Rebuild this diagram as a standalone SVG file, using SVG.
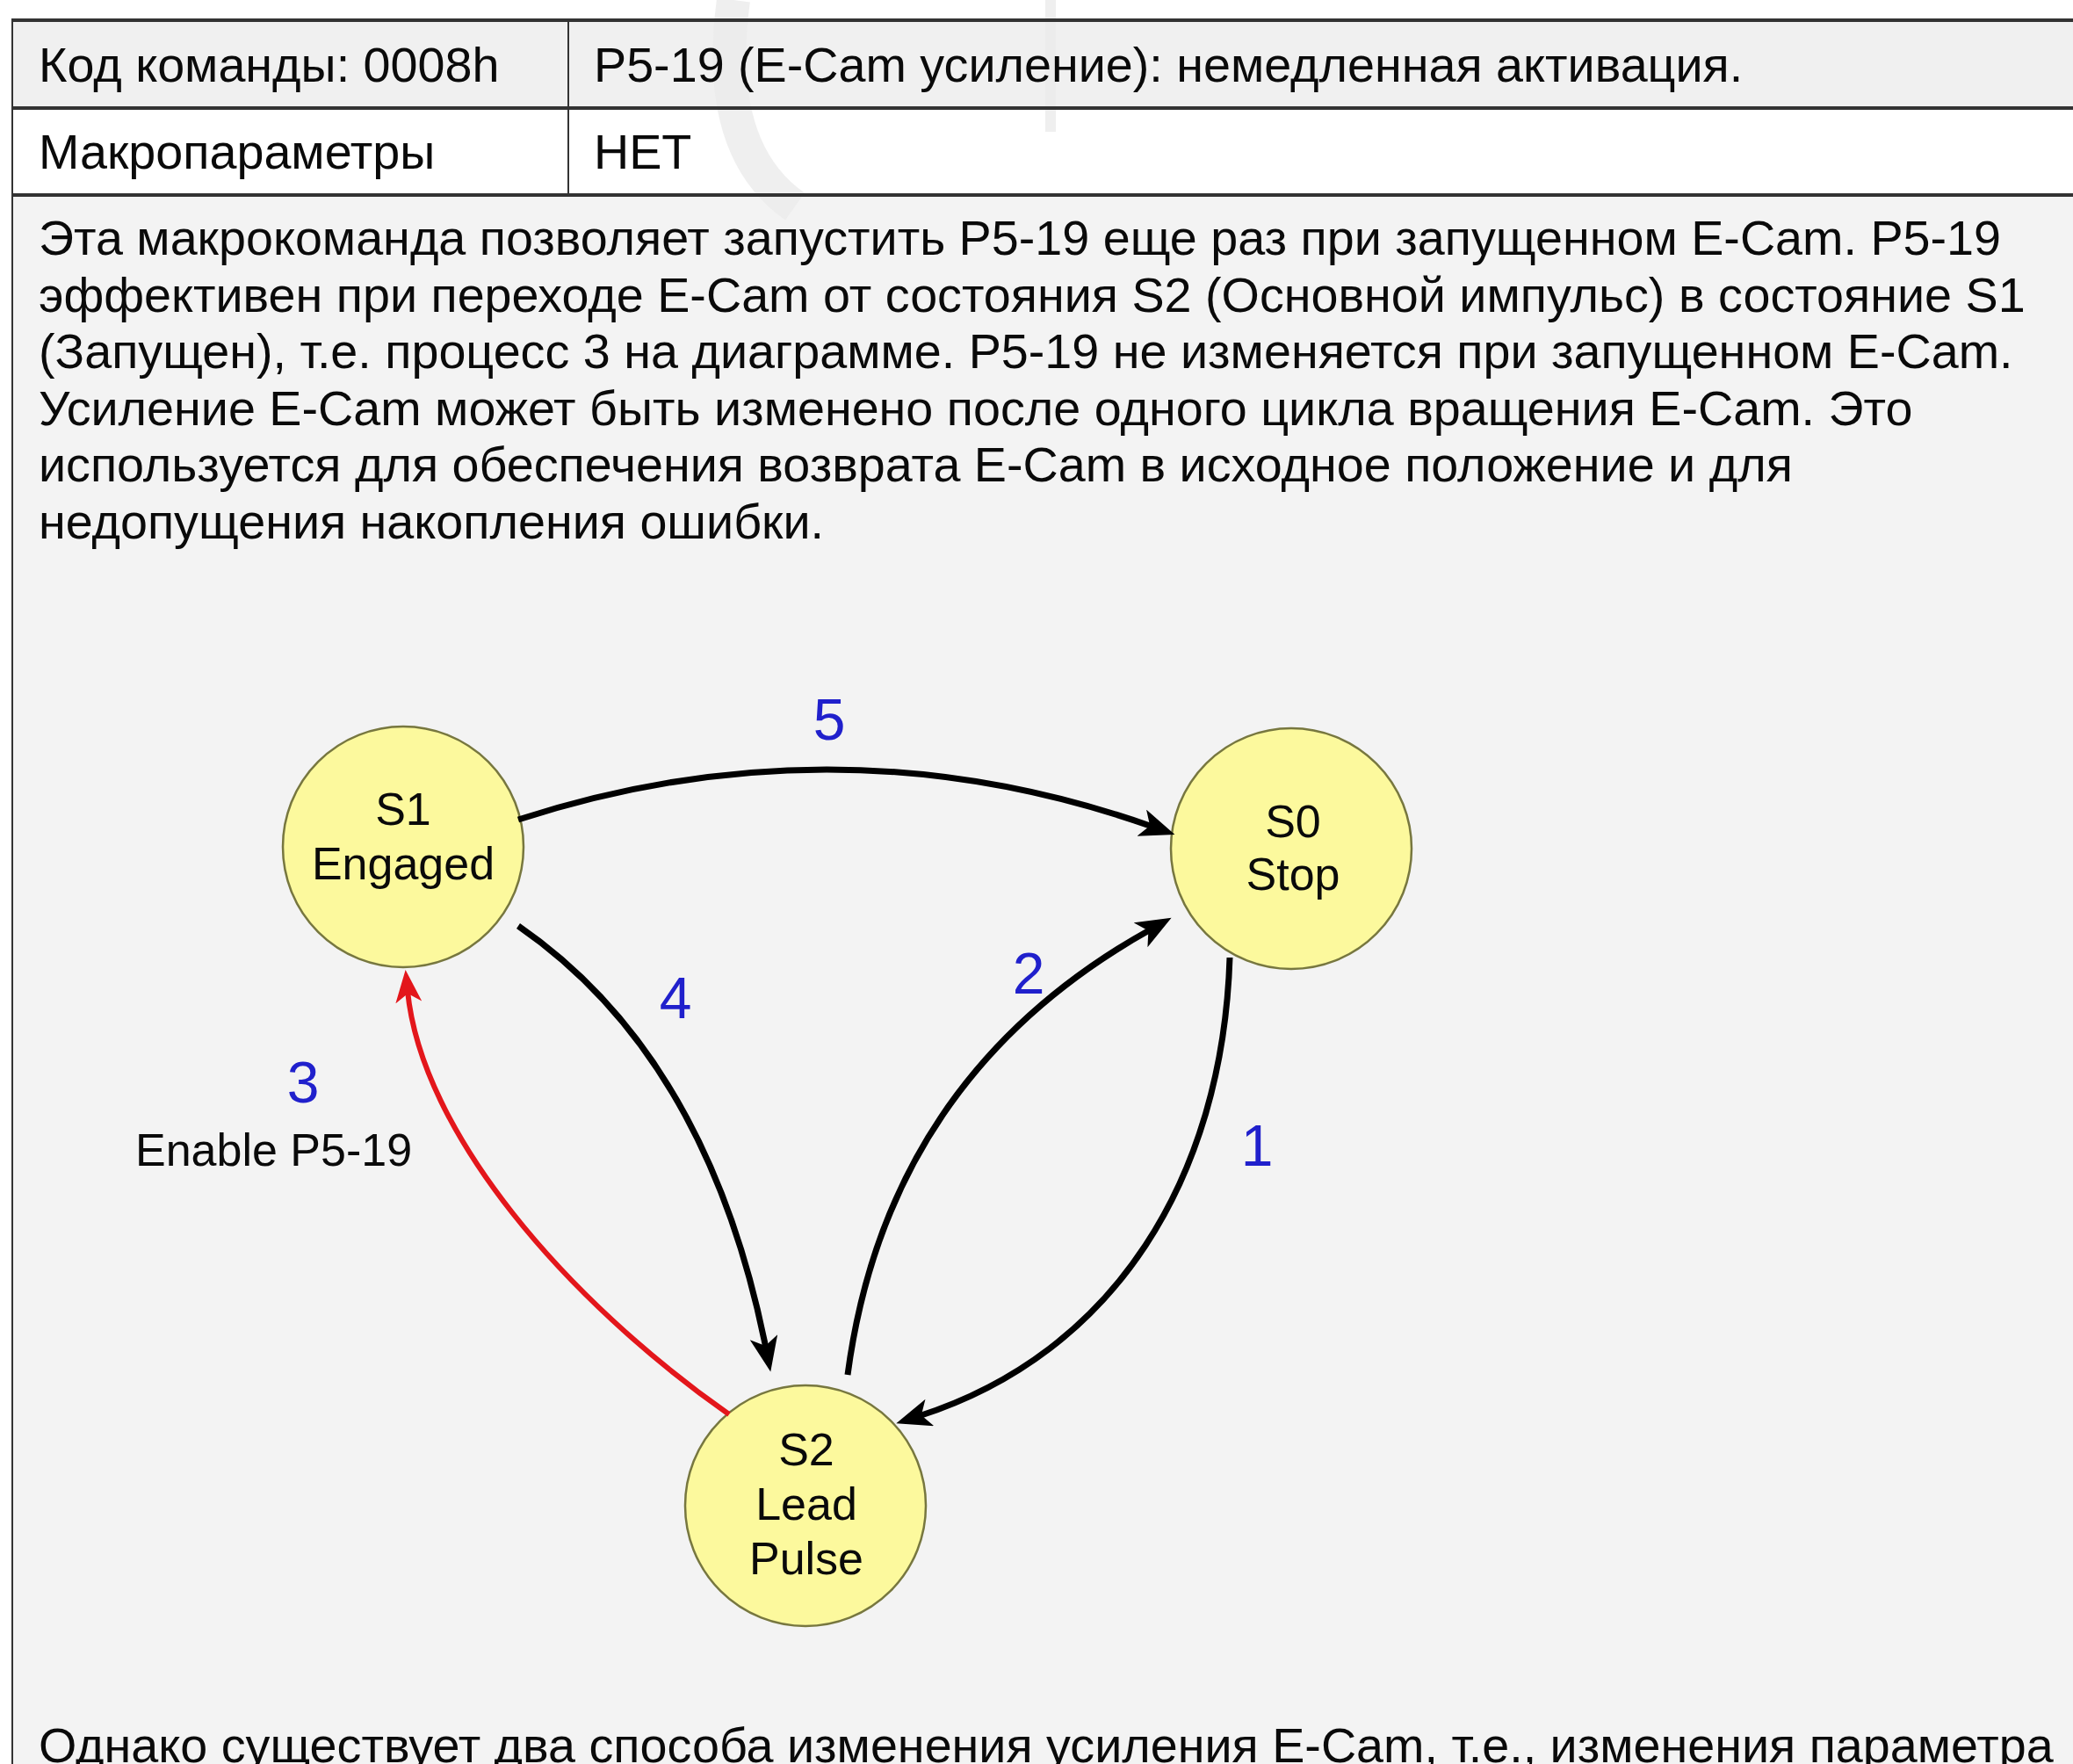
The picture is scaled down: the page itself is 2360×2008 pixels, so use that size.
<svg xmlns="http://www.w3.org/2000/svg" width="2360" height="2008" viewBox="0 0 2360 2008" font-family="'Liberation Sans', Arial, Helvetica, sans-serif">
<style>
  .t { font-family: "Liberation Sans", Arial, Helvetica, sans-serif; fill: #0a0a0a; }
  .tx { font-size: 55.7px; }
  .node circle { fill: #fcf99d; stroke: #77773f; stroke-width: 2.5; }
  .nt { font-size: 52px; text-anchor: middle; }
  .num { font-size: 66px; fill: #2020cc; text-anchor: middle; }
  .lbl { font-size: 52px; }
  .edge { fill: none; stroke: #000; stroke-width: 7; }
  .edge.red { stroke: #e3161b; stroke-width: 6; }
  .rule { stroke: #333; stroke-width: 4; }
  .vrule { stroke: #333; stroke-width: 2; }
</style>
<defs>
  <marker id="ah" markerUnits="userSpaceOnUse" viewBox="0 0 44 34" markerWidth="44" markerHeight="34" refX="13" refY="16" orient="auto">
    <path d="M0,0 L40,16 L0,32 L10,16 Z" fill="#000"/>
  </marker>
  <marker id="ahr" markerUnits="userSpaceOnUse" viewBox="0 0 44 34" markerWidth="44" markerHeight="34" refX="13" refY="15" orient="auto">
    <path d="M0,0 L37,15 L0,30 L10,15 Z" fill="#e3161b"/>
  </marker>
</defs>

<!-- backgrounds -->
<rect x="0" y="0" width="2360" height="2008" fill="#ffffff"/>
<rect x="14" y="222" width="2346" height="1786" fill="#f3f3f3"/>
<rect x="14" y="23" width="2346" height="100" fill="#f0f0f0"/>
<rect x="14" y="123" width="2346" height="99" fill="#ffffff"/>

<!-- faint watermark -->
<g id="watermark" fill="none" stroke="#ebebeb" opacity="0.8">
  <path d="M835,0 Q812,170 905,235" stroke-width="38"/>
  <path d="M1196,0 L1196,150" stroke-width="12"/>
</g>

<!-- table -->
<g id="table">
  <line class="rule" x1="14" y1="23" x2="2360" y2="23"/>
  <line class="rule" x1="14" y1="123" x2="2360" y2="123"/>
  <line class="rule" x1="14" y1="222" x2="2360" y2="222"/>
  <line class="vrule" x1="14" y1="21" x2="14" y2="2008"/>
  <line class="vrule" x1="647" y1="23" x2="647" y2="222"/>
  <text class="t tx" x="44" y="93">Код команды: 0008h</text>
  <text class="t tx" x="676" y="93">P5-19 (E-Cam усиление): немедленная активация.</text>
  <text class="t tx" x="44" y="192">Макропараметры</text>
  <text class="t tx" x="676" y="192">НЕТ</text>
</g>

<!-- body text -->
<g id="body-text" class="t tx">
  <text x="44" y="290">Эта макрокоманда позволяет запустить P5-19 еще раз при запущенном E-Cam. P5-19</text>
  <text x="44" y="354.5">эффективен при переходе E-Cam от состояния S2 (Основной импульс) в состояние S1</text>
  <text x="44" y="419">(Запущен), т.е. процесс 3 на диаграмме. P5-19 не изменяется при запущенном E-Cam.</text>
  <text x="44" y="483.5">Усиление E-Cam может быть изменено после одного цикла вращения E-Cam. Это</text>
  <text x="44" y="548">используется для обеспечения возврата E-Cam в исходное положение и для</text>
  <text x="44" y="612.5">недопущения накопления ошибки.</text>
  <text x="44" y="2006">Однако существует два способа изменения усиления E-Cam, т.е., изменения параметра</text>
</g>

<!-- nodes -->
<g id="node-s1" class="node">
  <circle cx="459" cy="964" r="137"/>
  <text class="t nt" x="459" y="939">S1</text>
  <text class="t nt" x="459" y="1001">Engaged</text>
</g>
<g id="node-s0" class="node">
  <circle cx="1470" cy="966" r="137"/>
  <text class="t nt" x="1472" y="953">S0</text>
  <text class="t nt" x="1472" y="1013">Stop</text>
</g>
<g id="node-s2" class="node">
  <circle cx="917" cy="1714" r="137"/>
  <text class="t nt" x="918" y="1668">S2</text>
  <text class="t nt" x="918" y="1730">Lead</text>
  <text class="t nt" x="918" y="1792">Pulse</text>
</g>

<!-- connectors -->
<g id="connectors">
  <path id="e5" class="edge" d="M590,933 Q955,815 1312,941" marker-end="url(#ah)"/>
  <path id="e4" class="edge" d="M590,1054 Q806,1203 872,1535" marker-end="url(#ah)"/>
  <path id="e2" class="edge" d="M965,1565 Q1010,1225 1310,1058" marker-end="url(#ah)"/>
  <path id="e1" class="edge" d="M1400,1090 C1392,1340 1270,1540 1046,1612" marker-end="url(#ah)"/>
  <path id="e3" class="edge red" d="M830,1610 C645,1480 480,1290 464,1128" marker-end="url(#ahr)"/>
</g>

<!-- labels -->
<g id="labels">
  <text class="t num" x="944" y="842">5</text>
  <text class="t num" x="769" y="1159">4</text>
  <text class="t num" x="1171" y="1131">2</text>
  <text class="t num" x="345" y="1255">3</text>
  <text class="t num" x="1431" y="1327">1</text>
  <text class="t lbl" x="154" y="1327">Enable P5-19</text>
</g>
</svg>
